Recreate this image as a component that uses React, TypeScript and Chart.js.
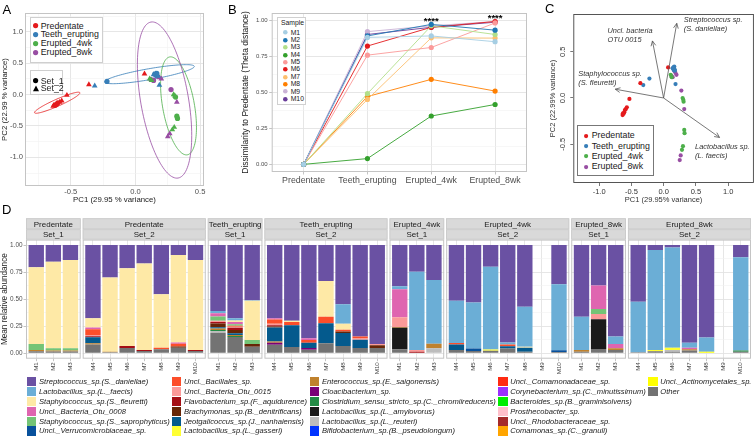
import React, { useEffect, useRef } from "react";
import { Chart, registerables } from "chart.js";

Chart.register(...registerables);
const FONT = "'Liberation Sans', Arial, Helvetica, sans-serif";
Chart.defaults.font.family = FONT;
Chart.defaults.color = "#4d4d4d";

// ---------------- shared ----------------
const STAGES = ["Predentate", "Teeth_erupting", "Erupted_4wk", "Erupted_8wk"];
const STAGE_COLORS = ["#e41a1c", "#377eb8", "#4daf4a", "#984ea3"];

// ---------------- Panel A / C : PCA scores [PC1, PC2, set] ----------------
const PCA_PREDENTATE = [
  [-0.62, -0.17, 1], [-0.61, -0.155, 1], [-0.6, -0.13, 1],
  [-0.636, -0.185, 2], [-0.63, -0.165, 2], [-0.585, -0.12, 2], [-0.57, -0.1, 2],
  [-0.53, -0.01, 2], [-0.36, 0.16, 2], [0.07, 0.33, 2],
];
const PCA_TEETH = [
  [-0.22, 0.21, 1], [0.165, 0.34, 1], [0.15, 0.325, 1],
  [-0.315, 0.14, 2], [0.155, 0.33, 2], [0.185, 0.15, 2], [0.17, 0.31, 2],
  [0.16, 0.3, 2], [0.14, 0.32, 2], [0.175, 0.295, 2],
];
const PCA_4WK = [
  [0.31, -0.04, 1], [0.32, -0.345, 1], [0.325, -0.38, 1],
  [0.11, 0.25, 2], [0.125, 0.225, 2], [0.295, 0.0, 2], [0.305, -0.02, 2],
  [0.3, -0.52, 2], [0.285, -0.56, 2],
];
const PCA_8WK = [
  [0.12, 0.24, 1], [0.14, 0.225, 1], [0.275, 0.08, 1],
  [0.17, 0.29, 2], [0.185, 0.27, 2], [0.2, 0.25, 2], [0.32, -0.12, 2],
  [0.265, -0.62, 2], [0.25, -0.67, 2],
];
const PCA_POINTS = [PCA_PREDENTATE, PCA_TEETH, PCA_4WK, PCA_8WK];

// confidence ellipses: [centre PC1, centre PC2, axis1 PC1, axis1 PC2, axis2 PC1, axis2 PC2]
const ELLIPSE_PREDENTATE = [-0.605, -0.13, 0.175, 0.16, 0.011, -0.051];
const ELLIPSE_TEETH = [0.108, 0.325, 0.347, 0.125, 0.007, -0.086];
const ELLIPSE_4WK = [0.333, -0.18, -0.068, 0.78, 0.121, 0.045];
const ELLIPSE_8WK = [0.225, -0.087, -0.105, 1.243, 0.182, 0.066];
const ELLIPSES = [ELLIPSE_PREDENTATE, ELLIPSE_TEETH, ELLIPSE_4WK, ELLIPSE_8WK];

const A_X_TICKS = [-0.75, -0.5, -0.25, 0, 0.25, 0.5];
const A_Y_TICKS = [-1.25, -1, -0.75, -0.5, -0.25, 0, 0.25, 0.5, 0.75, 1, 1.25];

// ---------------- Panel B ----------------
const SAMPLES = ["M1", "M2", "M3", "M4", "M5", "M6", "M7", "M8", "M9", "M10"];
const SAMPLE_COLORS = ["#a6cee3", "#1f78b4", "#b2df8a", "#33a02c", "#fb9a99", "#e31a1c", "#fdbf6f", "#ff7f00", "#cab2d6", "#6a3d9a"];
const THETA_M1 = [0, 0.88, 0.89, 0.85];
const THETA_M2 = [0, 0.89, 0.97, 0.93];
const THETA_M3 = [0, 0.49, 0.96, 0.9];
const THETA_M4 = [0, 0.04, 0.335, 0.415];
const THETA_M5 = [0, 0.757, 0.81, 0.98];
const THETA_M6 = [0, 0.82, 0.95, 0.99];
const THETA_M7 = [0, 0.45, 0.877, 0.875];
const THETA_M8 = [0, 0.47, 0.589, 0.508];
const THETA_M9 = [0, 0.92, 0.96, 0.99];
const THETA_M10 = [0, 0.9, 0.95, 0.985];
const THETA = [THETA_M1, THETA_M2, THETA_M3, THETA_M4, THETA_M5, THETA_M6, THETA_M7, THETA_M8, THETA_M9, THETA_M10];
const B_Y_TICKS = [0, 0.125, 0.25, 0.375, 0.5, 0.625, 0.75, 0.875, 1];
const SIG_STAGE_INDEX = [2, 3];
const SIG_LABEL = "****";

// ---------------- Panel C ----------------
const LOADING_NAMES = [
  ["Streptococcus sp.", "(S. daniellae)"],
  ["Uncl. bacteria", "OTU 0015"],
  ["Staphylococcus sp.", "(S. fleuretti)"],
  ["Lactobacillus sp.", "(L. faecis)"],
];
const LOADING_PC1 = [0.204, -0.173, -0.75, 0.867];
const LOADING_PC2 = [0.806, 0.616, 0.095, -0.426];
const C_LABEL_OFFSETS = [[7, -3.7], [-45, -10.3], [-37, -15.2], [-24.5, 9.3]];
const C_X_TICKS = [-1, -0.5, 0, 0.5, 1];
const C_Y_TICKS = [-0.5, 0, 0.5];

// ---------------- Panel D ----------------
const TAXA = [
  "Streptococcus_sp.(S._daniellae)", "Lactobacillus_sp.(L._faecis)", "Staphylococcus_sp.(S._fleuretti)",
  "Uncl._Bacteria_Otu_0008", "Staphylococcus_sp.(S._saprophyticus)", "Uncl._Verrucomicrobiaceae_sp.",
  "Uncl._Bacillales_sp.", "Uncl._Bacteria_Otu_0015", "Flavobacterium_sp.(F._aquidurence)",
  "Brachymonas_sp.(B._denitrificans)", "Jeotgalicoccus_sp.(J._nanhaiensis)", "Lactobacillus_sp.(L._gasseri)",
  "Enterococcus_sp.(E._saigonensis)", "Cloacibacterium_sp.", "Clostridium_sensu_stricto_sp.(C._chromiireducens)",
  "Lactobacillus_sp.(L._amylovorus)", "Lactobacillus_sp.(L._reuteri)", "Bifidobacterium_sp.(B._pseudolongum)",
  "Uncl._Comamonadaceae_sp.", "Corynebacterium_sp.(C._minutissimum)", "Bacteroides_sp.(B._graminisolvens)",
  "Prosthecobacter_sp.", "Uncl._Rhodobacteraceae_sp.", "Comamonas_sp.(C._granuli)",
  "Uncl._Actinomycetales_sp.", "Other",
];
const TAXA_COLORS = [
  "#6a51a3", "#6baed6", "#fee9a6", "#df65b0", "#74c476", "#08519c",
  "#fc4e2a", "#fb9a99", "#a50f15", "#662506", "#045a8d", "#ffff33",
  "#bf812d", "#7a0177", "#238b45", "#1a1a1a", "#bdbdbd", "#0033ff",
  "#ff2a12", "#9b30ff", "#00ee00", "#ffc0cb", "#a52a2a", "#ffa500",
  "#ffff00", "#737373",
];
const MICE_SET1 = ["M1", "M2", "M3"];
const MICE_SET2 = ["M4", "M5", "M6", "M7", "M8", "M9", "M10"];
const SETS = ["Set_1", "Set_2"];

// relative abundance per bar: Predentate M1..M10, Teeth_erupting M1..M10, Erupted_4wk M1..M10, Erupted_8wk M1..M10
const AB_STR = [
  0.206, 0.154, 0.138, 0.677, 0.3, 0.215, 0.17, 0.455, 0.092, 0.138,
  0.61, 0.677, 0.51, 0.677, 0.7, 0.862, 0.332, 0.548, 0.846, 0.914,
  0.38, 0.246, 0.323, 0.514, 0.53, 0.2, 0.9, 0.57, 0, 0.363,
  0.662, 0.375, 0.846, 0.523, 0.046, 0.022, 0.902, 0.855, 0, 0.114,
];
const AB_LFA = [
  0, 0, 0, 0, 0, 0, 0, 0, 0, 0,
  0.02, 0.02, 0.005, 0, 0, 0, 0, 0.18, 0, 0,
  0.028, 0.724, 0.59, 0.39, 0.425, 0.765, 0.02, 0.37, 0, 0.61,
  0.308, 0, 0.068, 0.468, 0.923, 0.926, 0.046, 0.13, 0, 0.861,
];
const AB_SFL = [
  0.708, 0.8, 0.816, 0.085, 0.685, 0.717, 0.8, 0.493, 0.808, 0.832,
  0, 0.015, 0.362, 0, 0.012, 0, 0.33, 0.055, 0, 0,
  0, 0, 0, 0, 0, 0, 0, 0.008, 0, 0,
  0, 0, 0, 0, 0, 0, 0, 0, 0, 0,
];
const AB_U08 = [
  0, 0, 0, 0.015, 0, 0, 0, 0, 0.012, 0,
  0.03, 0.02, 0, 0.01, 0, 0.015, 0, 0, 0, 0,
  0.26, 0, 0, 0, 0, 0, 0, 0, 0, 0,
  0, 0.215, 0.04, 0, 0, 0, 0.015, 0, 0, 0,
];
const AB_SSA = [
  0.056, 0.02, 0.02, 0, 0, 0, 0, 0, 0, 0,
  0.04, 0.013, 0.037, 0, 0, 0, 0, 0, 0, 0,
  0, 0, 0, 0, 0, 0, 0, 0, 0, 0,
  0, 0.046, 0, 0, 0, 0, 0, 0, 0, 0,
];
const AB_VER = [
  0, 0, 0, 0, 0, 0, 0, 0, 0, 0,
  0, 0, 0, 0, 0, 0, 0, 0, 0, 0,
  0, 0, 0, 0, 0.025, 0, 0, 0, 0, 0.015,
  0, 0, 0, 0, 0, 0, 0, 0, 0, 0,
];
const AB_BAC = [
  0, 0, 0, 0.055, 0, 0, 0, 0.015, 0.025, 0,
  0, 0.01, 0, 0.04, 0.03, 0.025, 0.06, 0.015, 0.018, 0,
  0, 0, 0, 0.015, 0, 0, 0.015, 0, 0, 0,
  0, 0, 0, 0, 0, 0, 0, 0, 0, 0,
];
const AB_U15 = [
  0, 0, 0, 0.01, 0, 0, 0, 0, 0, 0,
  0.01, 0.01, 0, 0.015, 0, 0, 0, 0, 0.012, 0.012,
  0.09, 0.015, 0, 0, 0, 0, 0, 0, 0, 0,
  0, 0.05, 0, 0, 0, 0, 0, 0, 0, 0,
];
const AB_FLA = [
  0, 0, 0, 0.01, 0, 0.02, 0.01, 0, 0, 0.01,
  0.015, 0.02, 0, 0.01, 0, 0, 0, 0, 0, 0,
  0, 0.015, 0, 0, 0, 0, 0, 0, 0, 0,
  0, 0, 0, 0, 0, 0, 0, 0, 0, 0,
];
const AB_BRA = [
  0, 0, 0, 0, 0, 0, 0, 0, 0.012, 0,
  0.035, 0.03, 0.025, 0.01, 0, 0, 0, 0.015, 0, 0.025,
  0, 0, 0, 0, 0, 0, 0, 0, 0, 0,
  0, 0, 0, 0, 0, 0, 0, 0, 0, 0,
];
const AB_JEO = [
  0, 0, 0, 0.055, 0, 0, 0, 0, 0, 0,
  0.01, 0.015, 0, 0.13, 0.2, 0.05, 0.185, 0.12, 0.075, 0,
  0, 0, 0, 0.05, 0, 0, 0.02, 0.037, 0, 0,
  0, 0, 0, 0, 0, 0, 0, 0, 0, 0,
];
const AB_LGA = [
  0, 0, 0, 0, 0, 0, 0, 0, 0, 0,
  0, 0, 0, 0, 0, 0, 0, 0, 0, 0,
  0, 0, 0, 0, 0, 0.012, 0, 0, 0, 0,
  0, 0, 0, 0, 0.012, 0.022, 0, 0, 0, 0,
];
const AB_ENT = [
  0.012, 0.01, 0.01, 0.013, 0.005, 0, 0, 0, 0, 0,
  0.015, 0.01, 0, 0.01, 0, 0, 0, 0, 0, 0,
  0.005, 0, 0.04, 0, 0, 0, 0, 0, 0, 0,
  0.015, 0, 0.015, 0, 0, 0, 0.012, 0, 0, 0,
];
const AB_CLO = [
  0, 0, 0, 0, 0, 0, 0, 0, 0, 0,
  0, 0, 0, 0.02, 0, 0.015, 0, 0, 0, 0,
  0, 0, 0, 0, 0, 0, 0, 0, 0, 0,
  0, 0, 0, 0, 0, 0, 0, 0, 0, 0,
];
const AB_CLS = [
  0, 0, 0, 0, 0, 0, 0, 0, 0, 0,
  0.01, 0.01, 0, 0, 0, 0, 0, 0, 0, 0,
  0, 0, 0, 0, 0, 0, 0, 0, 0, 0,
  0, 0, 0, 0, 0, 0, 0, 0, 0, 0.01,
];
const AB_LAM = [
  0, 0, 0, 0, 0, 0, 0, 0, 0, 0,
  0, 0, 0, 0, 0, 0, 0, 0, 0, 0,
  0.2, 0, 0, 0, 0, 0, 0, 0, 0, 0,
  0, 0.274, 0, 0, 0, 0, 0, 0, 0, 0,
];
const AB_LRE = [
  0, 0, 0, 0, 0, 0, 0, 0, 0, 0,
  0.015, 0, 0, 0, 0, 0, 0, 0, 0, 0,
  0, 0, 0.047, 0, 0, 0, 0, 0, 0, 0,
  0, 0, 0, 0, 0, 0.015, 0, 0, 0, 0,
];
const AB_ABSENT = [
  0, 0, 0, 0, 0, 0, 0, 0, 0, 0,
  0, 0, 0, 0, 0, 0, 0, 0, 0, 0,
  0, 0, 0, 0, 0, 0, 0, 0, 0, 0,
  0, 0, 0, 0, 0, 0, 0, 0, 0, 0,
];
const AB_ACT = [
  0, 0, 0, 0, 0, 0, 0, 0, 0, 0,
  0, 0, 0, 0, 0, 0, 0, 0, 0, 0,
  0, 0, 0, 0, 0, 0, 0, 0, 0, 0,
  0, 0, 0, 0, 0, 0, 0, 0.015, 0, 0,
];
const AB_OTH = [
  0.018, 0.016, 0.016, 0.08, 0.01, 0.048, 0.02, 0.037, 0.051, 0.02,
  0.19, 0.15, 0.061, 0.078, 0.058, 0.033, 0.093, 0.067, 0.049, 0.049,
  0.037, 0, 0, 0.031, 0.02, 0.023, 0.045, 0.015, 0, 0.012,
  0.015, 0.04, 0.031, 0.009, 0.019, 0.015, 0.025, 0, 0, 0.015,
];
const TAXA_VALUES = [
  AB_STR, AB_LFA, AB_SFL, AB_U08, AB_SSA, AB_VER, AB_BAC, AB_U15, AB_FLA, AB_BRA,
  AB_JEO, AB_LGA, AB_ENT, AB_CLO, AB_CLS, AB_LAM, AB_LRE, AB_ABSENT, AB_ABSENT, AB_ABSENT,
  AB_ABSENT, AB_ABSENT, AB_ABSENT, AB_ABSENT, AB_ACT, AB_OTH,
];
const D_Y_TICKS = [0, 0.125, 0.25, 0.375, 0.5, 0.625, 0.75, 0.875, 1];

// ---------------- facet layout (derived) ----------------
const PANEL_EXPAND = 0.6;
const PANEL_GAP = 0.117;
const FACETS: { stage: string; set: string; start: number; end: number }[] = [];
const BAR_POS: number[] = [];
const BAR_LABELS: string[] = [];
(() => {
  let cursor = 0;
  STAGES.forEach((stage) => {
    [MICE_SET1, MICE_SET2].forEach((mice, si) => {
      const start = cursor;
      mice.forEach((m, i) => {
        BAR_POS.push(start + PANEL_EXPAND + i);
        BAR_LABELS.push(m);
      });
      cursor += mice.length + 2 * PANEL_EXPAND - 1;
      FACETS.push({ stage, set: SETS[si], start, end: cursor });
      cursor += PANEL_GAP;
    });
  });
})();
const D_X_MAX = FACETS[FACETS.length - 1].end;

// ---------------- helpers ----------------
const GRID_MAJOR = "#e3e3e3";
const GRID_MINOR = "#f1f1f1";
const isMult = (v: number, step: number) => Math.abs(v / step - Math.round(v / step)) < 1e-6;

const panelBorder = (color: string) => ({
  id: "panelBorder",
  afterDatasetsDraw(chart: any) {
    const { ctx, chartArea: a } = chart;
    ctx.save();
    ctx.strokeStyle = color;
    ctx.lineWidth = 1;
    ctx.strokeRect(a.left + 0.5, a.top + 0.5, a.right - a.left - 1, a.bottom - a.top - 1);
    ctx.restore();
  },
});

function ChartCanvas({ left, top, width, height, make }: any) {
  const ref = useRef<HTMLCanvasElement>(null);
  useEffect(() => {
    if (!ref.current) return;
    const chart = new Chart(ref.current, make());
    return () => chart.destroy();
  }, []);
  return (
    <canvas
      ref={ref}
      width={width}
      height={height}
      style={{ position: "absolute", left, top, width, height, display: "block" }}
    />
  );
}

// ---------------- Chart A ----------------
const aEllipses = {
  id: "aEllipses",
  beforeDatasetsDraw(chart: any) {
    const { ctx, chartArea: a, scales } = chart;
    const { x, y } = scales;
    ctx.save();
    ctx.beginPath();
    ctx.rect(a.left, a.top, a.right - a.left, a.bottom - a.top);
    ctx.clip();
    ELLIPSES.forEach((e, i) => {
      ctx.beginPath();
      for (let k = 0; k <= 120; k++) {
        const t = (k / 120) * Math.PI * 2;
        const vx = e[0] + Math.cos(t) * e[2] + Math.sin(t) * e[4];
        const vy = e[1] + Math.cos(t) * e[3] + Math.sin(t) * e[5];
        const px = x.getPixelForValue(vx);
        const py = y.getPixelForValue(vy);
        if (k === 0) ctx.moveTo(px, py);
        else ctx.lineTo(px, py);
      }
      ctx.strokeStyle = STAGE_COLORS[i];
      ctx.lineWidth = 0.8;
      ctx.stroke();
    });
    ctx.restore();
  },
};

function makeA() {
  return {
    type: "scatter",
    data: {
      datasets: PCA_POINTS.map((pts, i) => ({
        label: STAGES[i],
        data: pts.map((p) => ({ x: p[0], y: p[1], set: p[2] })),
        backgroundColor: STAGE_COLORS[i],
        borderColor: STAGE_COLORS[i],
        borderWidth: 0,
        pointStyle: (c: any) => (c.raw && c.raw.set === 2 ? "triangle" : "circle"),
        pointRadius: (c: any) => (c.raw && c.raw.set === 2 ? 3.3 : 2.6),
        pointHoverRadius: (c: any) => (c.raw && c.raw.set === 2 ? 3.3 : 2.6),
      })),
    },
    options: {
      responsive: false,
      animation: false,
      devicePixelRatio: 1,
      events: [],
      layout: { padding: { top: 13, right: 4, left: 0, bottom: 0 } },
      plugins: { legend: { display: false }, tooltip: { enabled: false } },
      scales: {
        x: {
          type: "linear",
          min: -0.854,
          max: 0.53,
          afterBuildTicks: (s: any) => {
            s.ticks = A_X_TICKS.map((v) => ({ value: v }));
          },
          afterFit: (s: any) => {
            s.height = 29;
          },
          ticks: {
            callback: (v: any) => (isMult(Number(v), 0.5) ? Number(v).toFixed(1) : ""),
            font: { size: 7.6 },
            color: "#4d4d4d",
            padding: 1.5,
            maxRotation: 0,
            autoSkip: false,
          },
          grid: {
            color: (c: any) => (isMult(c.tick.value, 0.5) ? GRID_MAJOR : GRID_MINOR),
            lineWidth: (c: any) => (isMult(c.tick.value, 0.5) ? 0.9 : 0.6),
            drawTicks: false,
          },
          border: { display: false },
          title: {
            display: true,
            text: "PC1 (29.95 % variance)",
            color: "#1a1a1a",
            font: { size: 7.8 },
            padding: { top: 0, bottom: 10 },
          },
        },
        y: {
          type: "linear",
          min: -1.457,
          max: 1.3,
          afterBuildTicks: (s: any) => {
            s.ticks = A_Y_TICKS.map((v) => ({ value: v }));
          },
          afterFit: (s: any) => {
            s.width = 25;
          },
          ticks: {
            callback: (v: any) => (isMult(Number(v), 0.5) ? Number(v).toFixed(1) : ""),
            font: { size: 7.6 },
            color: "#4d4d4d",
            padding: 2,
            autoSkip: false,
          },
          grid: {
            color: (c: any) => (isMult(c.tick.value, 0.5) ? GRID_MAJOR : GRID_MINOR),
            lineWidth: (c: any) => (isMult(c.tick.value, 0.5) ? 0.9 : 0.6),
            drawTicks: false,
          },
          border: { display: false },
          title: {
            display: true,
            text: "PC2 (22.99 % variance)",
            color: "#1a1a1a",
            font: { size: 7.8 },
            padding: { top: 0.5, bottom: 0 },
          },
        },
      },
    },
    plugins: [aEllipses, panelBorder("#c4c4c4")],
  };
}

// ---------------- Chart B ----------------
const bSignif = {
  id: "bSignif",
  afterDatasetsDraw(chart: any) {
    const { ctx, scales } = chart;
    const { x, y } = scales;
    ctx.save();
    ctx.fillStyle = "#000";
    ctx.font = `bold 9.5px ${FONT}`;
    ctx.textAlign = "center";
    ctx.textBaseline = "middle";
    SIG_STAGE_INDEX.forEach((si) => {
      const top = Math.max(...THETA.map((t) => t[si]));
      ctx.fillText(SIG_LABEL, x.getPixelForValue(si), y.getPixelForValue(top) - 3.5);
    });
    ctx.restore();
  },
};

function makeB() {
  return {
    type: "line",
    data: {
      labels: STAGES,
      datasets: SAMPLES.map((m, i) => ({
        label: m,
        data: THETA[i],
        borderColor: SAMPLE_COLORS[i],
        backgroundColor: SAMPLE_COLORS[i],
        borderWidth: 0.9,
        pointRadius: 2.6,
        pointHoverRadius: 2.6,
        pointBorderWidth: 0,
        tension: 0,
        fill: false,
      })),
    },
    options: {
      responsive: false,
      animation: false,
      devicePixelRatio: 1,
      events: [],
      layout: { padding: { top: 13, right: 3, left: 0, bottom: 0 } },
      plugins: { legend: { display: false }, tooltip: { enabled: false } },
      scales: {
        x: {
          type: "category",
          offset: true,
          afterFit: (s: any) => {
            s.height = 23;
          },
          grid: { offset: false, color: GRID_MAJOR, lineWidth: 0.9, drawTicks: true, tickLength: 2.5, tickColor: "#bdbdbd" },
          border: { display: false },
          ticks: { font: { size: 8.8 }, color: "#4d4d4d", padding: 1, maxRotation: 0, autoSkip: false },
        },
        y: {
          type: "linear",
          min: -0.053,
          max: 1.049,
          afterBuildTicks: (s: any) => {
            s.ticks = B_Y_TICKS.map((v) => ({ value: v }));
          },
          afterFit: (s: any) => {
            s.width = 35.7;
          },
          ticks: {
            callback: (v: any) => (isMult(Number(v), 0.25) ? Number(v).toFixed(2) : ""),
            font: { size: 6 },
            color: "#4d4d4d",
            padding: 1.5,
            autoSkip: false,
          },
          grid: {
            color: (c: any) => (isMult(c.tick.value, 0.25) ? GRID_MAJOR : GRID_MINOR),
            lineWidth: (c: any) => (isMult(c.tick.value, 0.25) ? 0.9 : 0.6),
            drawTicks: true,
            tickLength: 2.5,
            tickColor: (c: any) => (isMult(c.tick.value, 0.25) ? "#bdbdbd" : "rgba(0,0,0,0)"),
          },
          border: { display: false },
          title: {
            display: true,
            text: "Dissimilarity to Predentate (Theta distance)",
            color: "#1a1a1a",
            font: { size: 8.5 },
            padding: { top: 4.9, bottom: 0 },
          },
        },
      },
    },
    plugins: [panelBorder("#c4c4c4"), bSignif],
  };
}

// ---------------- Chart C ----------------
const cBiplot = {
  id: "cBiplot",
  afterDatasetsDraw(chart: any) {
    const { ctx, chartArea: a, scales } = chart;
    const { x, y } = scales;
    ctx.save();
    // box
    ctx.strokeStyle = "#444";
    ctx.lineWidth = 0.9;
    ctx.strokeRect(a.left + 0.5, a.top + 0.5, a.right - a.left - 1, a.bottom - a.top - 1);
    // arrows
    const ox = x.getPixelForValue(0);
    const oy = y.getPixelForValue(0);
    ctx.strokeStyle = "#555";
    ctx.lineWidth = 0.8;
    ctx.fillStyle = "#333";
    ctx.font = `italic 7.4px ${FONT}`;
    ctx.textAlign = "left";
    ctx.textBaseline = "middle";
    LOADING_PC1.forEach((lx, i) => {
      const tx = x.getPixelForValue(lx);
      const ty = y.getPixelForValue(LOADING_PC2[i]);
      ctx.beginPath();
      ctx.moveTo(ox, oy);
      ctx.lineTo(tx, ty);
      const ang = Math.atan2(ty - oy, tx - ox);
      [-1, 1].forEach((s) => {
        const a2 = ang + Math.PI + s * 0.45;
        ctx.moveTo(tx, ty);
        ctx.lineTo(tx + 5.5 * Math.cos(a2), ty + 5.5 * Math.sin(a2));
      });
      ctx.stroke();
      const [dx, dy] = C_LABEL_OFFSETS[i];
      LOADING_NAMES[i].forEach((line, li) => {
        ctx.fillText(line, tx + dx, ty + dy + li * 9.2);
      });
    });
    // rotated y tick labels (base R style)
    ctx.fillStyle = "#333";
    ctx.font = `7.5px ${FONT}`;
    ctx.textAlign = "center";
    ctx.textBaseline = "middle";
    C_Y_TICKS.forEach((v) => {
      ctx.save();
      ctx.translate(a.left - 10, y.getPixelForValue(v));
      ctx.rotate(-Math.PI / 2);
      ctx.fillText(v.toFixed(1), 0, 0);
      ctx.restore();
    });
    ctx.restore();
  },
};

function makeC() {
  return {
    type: "scatter",
    data: {
      datasets: PCA_POINTS.map((pts, i) => ({
        label: STAGES[i],
        data: pts.map((p) => ({ x: p[0], y: p[1] })),
        backgroundColor: STAGE_COLORS[i],
        borderWidth: 0,
        pointRadius: 2.1,
        pointHoverRadius: 2.1,
      })),
    },
    options: {
      responsive: false,
      animation: false,
      devicePixelRatio: 1,
      events: [],
      layout: { padding: { top: 14, right: 1, left: 0, bottom: 0 } },
      plugins: { legend: { display: false }, tooltip: { enabled: false } },
      scales: {
        x: {
          type: "linear",
          min: -1.4,
          max: 1.4,
          afterBuildTicks: (s: any) => {
            s.ticks = C_X_TICKS.map((v) => ({ value: v }));
          },
          afterFit: (s: any) => {
            s.height = 27;
          },
          ticks: {
            callback: (v: any) => Number(v).toFixed(1),
            font: { size: 7.5 },
            color: "#333",
            padding: 1,
            maxRotation: 0,
            autoSkip: false,
          },
          grid: { drawOnChartArea: false, drawTicks: true, tickLength: 3, color: "#555", lineWidth: 0.8 },
          border: { display: false },
          title: {
            display: true,
            text: "PC1 (29.95% variance)",
            color: "#333",
            font: { size: 7.5 },
            padding: { top: 0, bottom: 5.5 },
          },
        },
        y: {
          type: "linear",
          min: -0.918,
          max: 0.907,
          afterBuildTicks: (s: any) => {
            s.ticks = C_Y_TICKS.map((v) => ({ value: v }));
          },
          afterFit: (s: any) => {
            s.width = 33.3;
          },
          ticks: { display: false },
          grid: { drawOnChartArea: false, drawTicks: true, tickLength: 3, color: "#555", lineWidth: 0.8 },
          border: { display: false },
          title: {
            display: true,
            text: "PC2 (22.99% variance)",
            color: "#333",
            font: { size: 7.5 },
            padding: { top: 8.5, bottom: 0 },
          },
        },
      },
    },
    plugins: [cBiplot],
  };
}

// ---------------- Chart D ----------------
const dFacets = {
  id: "dFacets",
  beforeDatasetsDraw(chart: any) {
    const { ctx, chartArea: a, scales } = chart;
    const x = scales.x;
    ctx.save();
    ctx.fillStyle = "#ffffff";
    for (let k = 0; k < FACETS.length - 1; k++) {
      const x0 = x.getPixelForValue(FACETS[k].end);
      const x1 = x.getPixelForValue(FACETS[k + 1].start);
      ctx.fillRect(x0, a.top, x1 - x0, a.bottom - a.top);
    }
    ctx.restore();
  },
  afterDatasetsDraw(chart: any) {
    const { ctx, chartArea: a, scales } = chart;
    const x = scales.x;
    ctx.save();
    FACETS.forEach((f) => {
      const x0 = x.getPixelForValue(f.start);
      const x1 = x.getPixelForValue(f.end);
      ctx.strokeStyle = "#c4c4c4";
      ctx.lineWidth = 1;
      ctx.strokeRect(x0 + 0.5, a.top + 0.5, x1 - x0 - 1, a.bottom - a.top - 1);
      const rows = [
        { y0: a.top - 21.3, h: 11, text: f.stage },
        { y0: a.top - 10.3, h: 10.3, text: f.set },
      ];
      rows.forEach((r) => {
        ctx.fillStyle = "#d9d9d9";
        ctx.fillRect(x0, r.y0, x1 - x0, r.h);
        ctx.strokeStyle = "#c9c9c9";
        ctx.lineWidth = 0.8;
        ctx.strokeRect(x0 + 0.4, r.y0 + 0.4, x1 - x0 - 0.8, r.h - 0.8);
        ctx.fillStyle = "#1a1a1a";
        ctx.font = `8px ${FONT}`;
        ctx.textAlign = "center";
        ctx.textBaseline = "middle";
        ctx.fillText(r.text, (x0 + x1) / 2, r.y0 + r.h / 2 + 0.5);
      });
    });
    ctx.restore();
  },
};

function makeD() {
  const datasets = TAXA.map((name, i) => ({
    label: name,
    data: TAXA_VALUES[i].map((v, j) => ({ x: BAR_POS[j], y: v })),
    backgroundColor: TAXA_COLORS[i],
    borderWidth: 0,
    barPercentage: 0.9,
    categoryPercentage: 1,
  })).reverse();
  return {
    type: "bar",
    data: { datasets },
    options: {
      responsive: false,
      animation: false,
      devicePixelRatio: 1,
      events: [],
      layout: { padding: { top: 27.6, right: 5, left: 0, bottom: 0 } },
      plugins: { legend: { display: false }, tooltip: { enabled: false } },
      scales: {
        x: {
          type: "linear",
          min: 0,
          max: D_X_MAX,
          offset: false,
          stacked: true,
          afterBuildTicks: (s: any) => {
            s.ticks = BAR_POS.map((v) => ({ value: v }));
          },
          afterFit: (s: any) => {
            s.height = 17.3;
          },
          ticks: {
            callback: (_v: any, i: number) => BAR_LABELS[i],
            font: { size: 6.2 },
            color: "#4d4d4d",
            padding: 1,
            minRotation: 90,
            maxRotation: 90,
            autoSkip: false,
          },
          grid: { offset: false, color: GRID_MAJOR, lineWidth: 0.9, drawTicks: true, tickLength: 2.5, tickColor: "#bdbdbd" },
          border: { display: false },
        },
        y: {
          type: "linear",
          min: -0.05,
          max: 1.05,
          stacked: true,
          afterBuildTicks: (s: any) => {
            s.ticks = D_Y_TICKS.map((v) => ({ value: v }));
          },
          afterFit: (s: any) => {
            s.width = 26;
          },
          ticks: {
            callback: (v: any) => (isMult(Number(v), 0.25) ? Number(v).toFixed(2) : ""),
            font: { size: 6.4 },
            color: "#4d4d4d",
            padding: 1,
            autoSkip: false,
          },
          grid: {
            color: (c: any) => (isMult(c.tick.value, 0.25) ? GRID_MAJOR : GRID_MINOR),
            lineWidth: (c: any) => (isMult(c.tick.value, 0.25) ? 0.9 : 0.6),
            drawTicks: true,
            tickLength: 2.5,
            tickColor: (c: any) => (isMult(c.tick.value, 0.25) ? "#bdbdbd" : "rgba(0,0,0,0)"),
          },
          border: { display: false },
          title: {
            display: true,
            text: "Mean relative abundance",
            color: "#1a1a1a",
            font: { size: 8.2 },
            padding: { top: 0, bottom: 0 },
          },
        },
      },
    },
    plugins: [dFacets],
  };
}

// ---------------- HTML text helpers ----------------
function Txt({ x, y, size, children, color = "#1a1a1a", italic = false, weight = "normal" }: any) {
  return (
    <div
      style={{
        position: "absolute",
        left: x,
        top: y - size * 0.6,
        fontSize: size,
        lineHeight: `${size * 1.2}px`,
        fontFamily: FONT,
        color,
        fontStyle: italic ? "italic" : "normal",
        fontWeight: weight,
        whiteSpace: "nowrap",
      }}
    >
      {children}
    </div>
  );
}

function Dot({ x, y, r, color, shape = "circle" }: any) {
  const s = r * 2 + 4;
  return (
    <svg style={{ position: "absolute", left: x - s / 2, top: y - s / 2 }} width={s} height={s}>
      {shape === "circle" ? (
        <circle cx={s / 2} cy={s / 2} r={r} fill={color} />
      ) : (
        <polygon
          points={`${s / 2},${s / 2 - r * 1.15} ${s / 2 + r},${s / 2 + r * 0.75} ${s / 2 - r},${s / 2 + r * 0.75}`}
          fill={color}
        />
      )}
    </svg>
  );
}

function Box({ left, top, width, height, border }: any) {
  return (
    <div
      style={{
        position: "absolute",
        left,
        top,
        width,
        height,
        border: `1px solid ${border}`,
        boxSizing: "border-box",
        background: "#fff",
      }}
    />
  );
}

function LegendA() {
  return (
    <>
      <Box left={30} top={17} width={73} height={46} border="#cfcfcf" />
      {STAGES.map((s, i) => (
        <React.Fragment key={s}>
          <Dot x={36} y={26 + i * 8.7} r={2.6} color={STAGE_COLORS[i]} />
          <Txt x={40.7} y={26 + i * 8.7} size={8.8}>
            {s}
          </Txt>
        </React.Fragment>
      ))}
      <Box left={30} top={70} width={33} height={25} border="#cfcfcf" />
      {SETS.map((s, i) => (
        <React.Fragment key={s}>
          <Dot x={36} y={81 + i * 7.7} r={i === 0 ? 2.6 : 3} color="#000" shape={i === 0 ? "circle" : "triangle"} />
          <Txt x={40.7} y={81 + i * 7.7} size={8.8}>
            {s}
          </Txt>
        </React.Fragment>
      ))}
    </>
  );
}

function LegendB() {
  return (
    <>
      <Box left={277.3} top={17.3} width={28.7} height={87.7} border="#d0d0d0" />
      <Txt x={281} y={23.3} size={6.8}>
        Sample
      </Txt>
      {SAMPLES.map((m, i) => (
        <React.Fragment key={m}>
          <Dot x={285} y={32.7 + i * 7.37} r={2.3} color={SAMPLE_COLORS[i]} />
          <Txt x={290.7} y={32.7 + i * 7.37} size={6.8}>
            {m}
          </Txt>
        </React.Fragment>
      ))}
    </>
  );
}

function LegendC() {
  return (
    <>
      <Box left={577.3} top={125} width={77} height={51} border="#777" />
      {STAGES.map((s, i) => (
        <React.Fragment key={s}>
          <Dot x={585.7} y={135.7 + i * 10.3} r={2.1} color={STAGE_COLORS[i]} />
          <Txt x={591.7} y={135.7 + i * 10.3} size={8.8}>
            {s}
          </Txt>
        </React.Fragment>
      ))}
    </>
  );
}

const D_LEGEND_COL_X = [27, 172, 310, 498.3, 648.3];
const D_LEGEND_ROW_Y0 = 381.7;
const D_LEGEND_ROW_H = 9.87;

function LegendD() {
  return (
    <>
      {TAXA.map((t, i) => {
        const col = Math.floor(i / 6);
        const row = i % 6;
        const cx = D_LEGEND_COL_X[col];
        const cy = D_LEGEND_ROW_Y0 + row * D_LEGEND_ROW_H;
        return (
          <React.Fragment key={t}>
            <div
              style={{
                position: "absolute",
                left: cx,
                top: cy - 4.6,
                width: 9.3,
                height: 9.3,
                background: TAXA_COLORS[i],
              }}
            />
            <Txt x={cx + 12} y={cy} size={7.6} italic>
              {t}
            </Txt>
          </React.Fragment>
        );
      })}
    </>
  );
}

export default function App() {
  return (
    <div
      style={{
        position: "absolute",
        left: 0,
        top: 0,
        width: 756,
        height: 439,
        background: "#fff",
        overflow: "hidden",
        fontFamily: FONT,
      }}
    >
      <ChartCanvas left={0} top={0} width={208} height={215} make={makeA} />
      <ChartCanvas left={236} top={0} width={294} height={195} make={makeB} />
      <ChartCanvas left={540} top={0} width={216} height={210} make={makeC} />
      <ChartCanvas left={0} top={212} width={756} height={164} make={makeD} />
      <LegendA />
      <LegendB />
      <LegendC />
      <LegendD />
      <Txt x={2.5} y={10} size={13} color="#000">A</Txt>
      <Txt x={228} y={10} size={13} color="#000">B</Txt>
      <Txt x={545} y={8.7} size={13} color="#000">C</Txt>
      <Txt x={2} y={210} size={13} color="#000">D</Txt>
    </div>
  );
}
